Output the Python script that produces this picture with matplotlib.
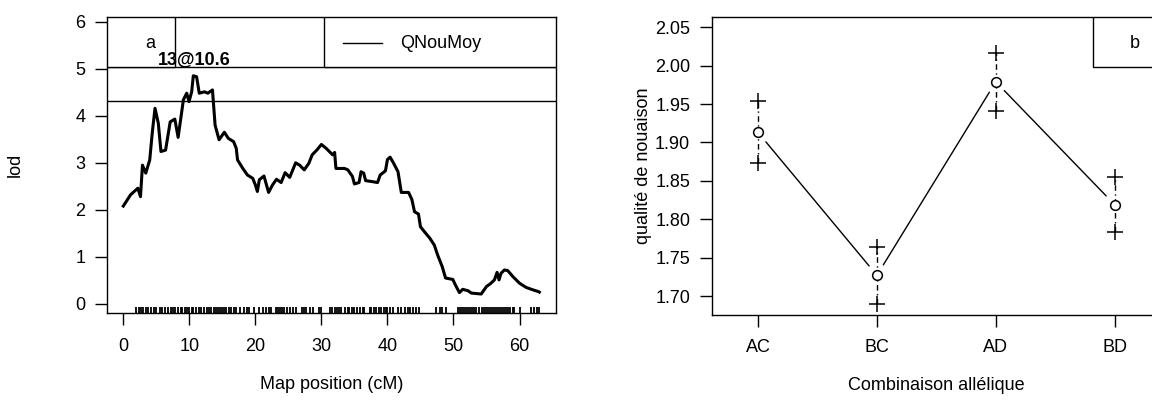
import matplotlib
matplotlib.use("Agg")
import matplotlib.pyplot as plt
from matplotlib.patches import Rectangle

plt.rcParams['font.family'] = ['Liberation Sans', 'DejaVu Sans']
plt.rcParams['font.size'] = 13

# LOD profile (cM, lod)
lod_pos = [0.0, 1.1, 2.2, 2.6, 2.9, 3.4, 4.0, 4.4, 4.8, 5.3, 5.7, 6.4, 7.1, 7.8, 8.3,
           9.1, 9.6, 9.95, 10.35, 10.6, 11.1, 11.5, 12.3, 12.8, 13.5, 13.9, 14.5, 15.3,
           15.9, 16.7, 17.1, 17.3, 18.1, 18.8, 19.6, 20.0, 20.3, 20.6, 21.3, 22.0, 22.6,
           23.2, 23.9, 24.5, 25.2, 26.1, 26.7, 27.4, 28.1, 28.6, 29.3, 30.0, 30.7, 31.2,
           31.7, 32.0, 32.2, 33.5, 34.0, 34.7, 35.0, 35.7, 36.0, 36.4, 36.7, 37.7, 38.5,
           38.9, 39.7, 40.0, 40.4, 40.9, 41.6, 42.1, 43.2, 43.7, 44.1, 44.7, 45.0, 45.8,
           46.4, 47.1, 47.6, 48.3, 48.8, 49.9, 50.3, 50.9, 51.4, 52.2, 52.7, 54.2, 55.0,
           55.6, 56.2, 56.6, 56.9, 57.2, 57.7, 58.2, 59.0, 60.0, 61.0, 62.0, 62.9, 63.0]
lod_val = [2.08, 2.32, 2.46, 2.28, 2.95, 2.78, 3.06, 3.66, 4.16, 3.84, 3.24, 3.27, 3.87, 3.93, 3.54,
           4.34, 4.48, 4.30, 4.51, 4.85, 4.83, 4.48, 4.51, 4.48, 4.55, 3.80, 3.49, 3.65,
           3.52, 3.45, 3.31, 3.06, 2.88, 2.74, 2.67, 2.53, 2.39, 2.64, 2.72, 2.37, 2.53,
           2.65, 2.58, 2.79, 2.69, 3.00, 2.95, 2.85, 2.99, 3.17, 3.27, 3.39, 3.31, 3.24,
           3.17, 3.22, 2.88, 2.88, 2.85, 2.71, 2.55, 2.58, 2.81, 2.78, 2.62, 2.60, 2.58,
           2.74, 2.83, 3.07, 3.12, 3.00, 2.81, 2.37, 2.37, 2.22, 1.96, 1.91, 1.64, 1.50,
           1.40, 1.25, 1.04, 0.79, 0.55, 0.52, 0.40, 0.24, 0.31, 0.28, 0.23, 0.21, 0.37,
           0.43, 0.51, 0.67, 0.51, 0.65, 0.72, 0.71, 0.58, 0.44, 0.35, 0.30, 0.26, 0.25]

# marker positions (rug)
markers = [1.9, 2.3, 2.7, 3.0, 3.4, 3.8, 4.2, 4.6, 5.0, 5.5, 5.9, 6.3, 6.8, 7.2, 7.5, 7.9,
           8.3, 8.7, 8.9, 9.3, 9.6, 10.0, 10.4, 10.6, 11.0, 11.4, 11.8, 12.2, 12.6, 13.0,
           13.3, 13.7, 14.0, 14.3, 14.7, 15.0, 15.3, 15.6, 16.0, 16.3, 16.7, 17.1, 17.6,
           18.3, 18.7, 19.1, 19.8, 20.5, 21.2, 21.6, 22.0, 22.4, 23.1, 23.4, 23.8, 24.1,
           24.4, 24.8, 25.2, 25.7, 26.2, 27.1, 27.4, 27.7, 28.2, 28.8, 29.6, 30.0, 31.3,
           31.6, 32.0, 32.3, 32.7, 33.0, 33.5, 34.0, 34.2, 34.6, 35.0, 35.4, 35.8, 36.3,
           36.5, 37.3, 37.5, 37.9, 38.3, 38.7, 39.1, 39.5, 39.8, 40.0, 40.4, 40.8, 41.6,
           42.0, 42.6, 43.1, 43.4, 43.8, 44.4, 44.8, 47.3, 47.9, 48.3, 48.8, 50.7, 51.0,
           51.3, 51.6, 51.9, 52.2, 52.5, 52.8, 53.1, 53.4, 53.9, 54.3, 54.6, 55.0, 55.2,
           55.5, 55.8, 56.1, 56.5, 56.7, 57.0, 57.4, 57.7, 58.0, 58.2, 58.6, 59.0, 59.2,
           60.0, 61.8, 62.2, 62.6, 63.0]

thresholds = [4.32, 5.04]
peak_label = "13@10.6"

# effect plot
combos = ["AC", "BC", "AD", "BD"]
means = [1.913, 1.727, 1.979, 1.819]
upper = [1.954, 1.764, 2.016, 1.855]
lower = [1.873, 1.689, 1.941, 1.783]

fig = plt.figure(figsize=(11.52, 4.17), dpi=100)
ax1 = fig.add_axes([0.0926, 0.2487, 0.390, 0.7105])
ax2 = fig.add_axes([0.6178, 0.2446, 0.390, 0.7154])

for ax in (ax1, ax2):
    for s in ax.spines.values():
        s.set_linewidth(1)
    ax.tick_params(direction='out', length=8.5, width=1, labelsize=13)
    ax.tick_params(axis='x', pad=9)
    ax.tick_params(axis='y', pad=7)

# ---- left panel
ax1.plot(lod_pos, lod_val, color='black', lw=2.2, solid_joinstyle='round')
for t in thresholds:
    ax1.axhline(t, color='black', lw=1)
ax1.vlines(markers, 0, 0.02, transform=ax1.get_xaxis_transform(), color='black', lw=1.3)
ax1.set_xlim(-2.52, 65.52)
ax1.set_ylim(-0.2, 6.1)
ax1.set_xticks([0, 10, 20, 30, 40, 50, 60])
ax1.set_yticks([0, 1, 2, 3, 4, 5, 6])
ax1.text(10.75, 5.2, peak_label, ha='center', va='center', fontweight='bold', fontsize=13, zorder=6)

ax1.add_patch(Rectangle((0, 0.831), 0.152, 0.169, transform=ax1.transAxes,
                        fill=True, fc='white', ec='black', lw=1, zorder=3))
ax1.text(0.096, 0.912, "a", transform=ax1.transAxes, ha='center', va='center', zorder=4)
ax1.add_patch(Rectangle((0.4837, 0.831), 0.5163, 0.169, transform=ax1.transAxes,
                        fill=True, fc='white', ec='black', lw=1, zorder=3))
ax1.plot([0.526, 0.613], [0.912, 0.912], transform=ax1.transAxes, color='black', lw=1, zorder=4)
ax1.text(0.653, 0.912, "QNouMoy", transform=ax1.transAxes, ha='left', va='center', zorder=4)

ax1.set_xlabel("Map position (cM)", fontsize=13)
ax1.set_ylabel("lod", fontsize=13)
ax1.xaxis.set_label_coords(0.5, -0.242)
ax1.xaxis.label.set_va('center')
ax1.yaxis.set_label_coords(-0.204, 0.5)
ax1.yaxis.label.set_va('center')

# ---- right panel
xs = list(range(1, len(combos) + 1))
for x, lo, hi in zip(xs, lower, upper):
    ax2.plot([x, x], [lo, hi], color='black', lw=1, linestyle=(0, (4, 2.5, 1, 2.5)))
ax2.plot(xs, upper, linestyle='none', marker='+', ms=11, mew=1.1, color='black')
ax2.plot(xs, lower, linestyle='none', marker='+', ms=11, mew=1.1, color='black')
ax2.plot(xs, means, linestyle='none', marker='o', ms=7, mfc='white', mec='black', mew=1.1, zorder=3)
for i in range(len(xs) - 1):
    ax2.annotate('', xy=(xs[i + 1], means[i + 1]), xytext=(xs[i], means[i]),
                 arrowprops=dict(arrowstyle='-', shrinkA=8.8, shrinkB=8.8, lw=1, color='black'))
ax2.set_xlim(0.61, 4.39)
ax2.set_ylim(1.6753, 2.0638)
ax2.set_xticks(xs)
ax2.set_xticklabels(combos)
ax2.set_yticks([1.70, 1.75, 1.80, 1.85, 1.90, 1.95, 2.00, 2.05])
ax2.set_yticklabels(["%.2f" % v for v in [1.70, 1.75, 1.80, 1.85, 1.90, 1.95, 2.00, 2.05]])

ax2.add_patch(Rectangle((0.848, 0.832), 0.152, 0.168, transform=ax2.transAxes,
                        fill=True, fc='white', ec='black', lw=1, zorder=3))
ax2.text(0.942, 0.911, "b", transform=ax2.transAxes, ha='center', va='center', zorder=4)

ax2.set_xlabel("Combinaison allélique", fontsize=13)
ax2.set_ylabel("qualité de nouaison", fontsize=13)
ax2.xaxis.set_label_coords(0.5, -0.235)
ax2.xaxis.label.set_va('center')
ax2.yaxis.set_label_coords(-0.152, 0.5)
ax2.yaxis.label.set_va('center')

fig.savefig("out.png", dpi=100)
